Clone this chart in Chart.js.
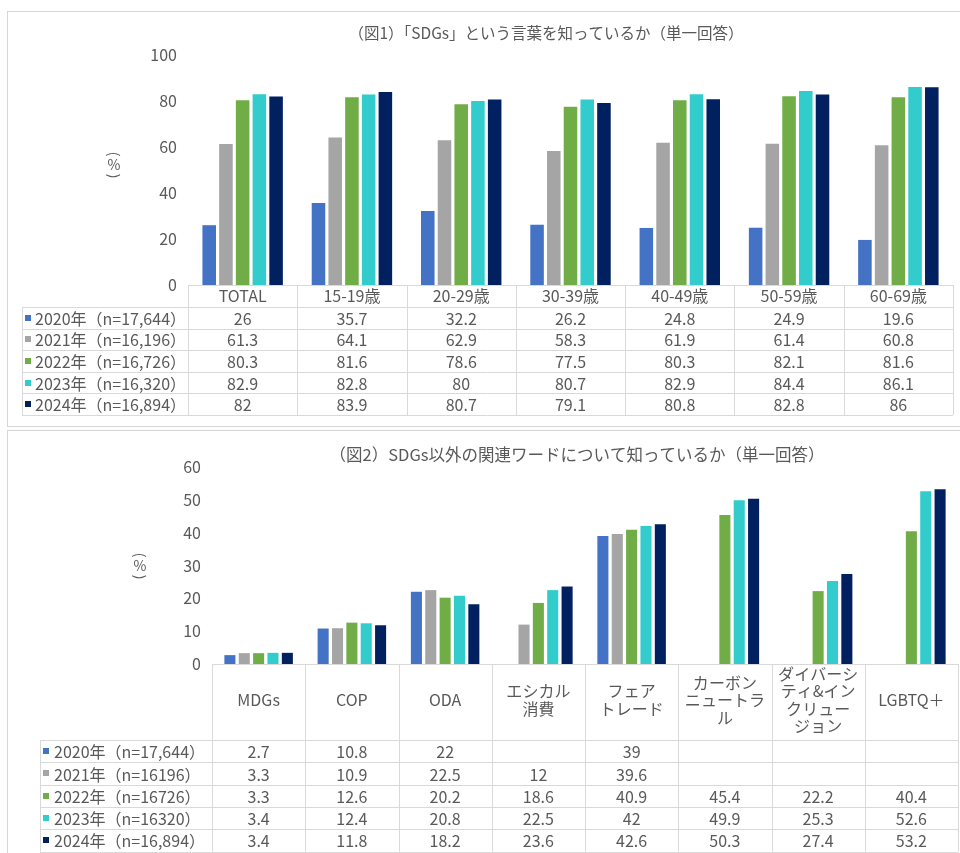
<!DOCTYPE html>
<html lang="ja">
<head>
<meta charset="utf-8">
<title>SDGs認知度</title>
<script src="https://cdn.jsdelivr.net/npm/chart.js@4/dist/chart.umd.min.js"></script>
<style>
  html, body { margin: 0; padding: 0; background: #fff; width: 960px; height: 853px; overflow: hidden; }
  .panel { position: absolute; border: 1px solid #d6d6d6; box-sizing: border-box; background: #fff; }
  #p1 { left: 7px; top: 11px; width: 1000px; height: 416px; }
  #p2 { left: 7px; top: 430px; width: 1000px; height: 500px; }
  canvas { position: absolute; left: 0; }
  #c1 { top: 0; }
  #c2 { top: 428px; }
</style>
</head>
<body>
<div class="panel" id="p1"></div>
<div class="panel" id="p2"></div>
<canvas id="c1" width="960" height="428"></canvas>
<canvas id="c2" width="960" height="425"></canvas>
<script>
// ---- data ----
const FONT = '"Noto Sans CJK JP", "Noto Sans", sans-serif';
const TEXT_COLOR = '#595959';

const seriesColors = ['#4472C4', '#A5A5A5', '#70AD47', '#33CCCC', '#002060'];

// 図1: 「SDGs」という言葉の認知
const title1 = '（図1）「SDGs」という言葉を知っているか（単一回答）';
const seriesNames1 = ['2020年（n=17,644）', '2021年（n=16,196）', '2022年（n=16,726）', '2023年（n=16,320）', '2024年（n=16,894）'];
const ageGroups = ['TOTAL', '15-19歳', '20-29歳', '30-39歳', '40-49歳', '50-59歳', '60-69歳'];
const sdgs2020 = [26, 35.7, 32.2, 26.2, 24.8, 24.9, 19.6];
const sdgs2021 = [61.3, 64.1, 62.9, 58.3, 61.9, 61.4, 60.8];
const sdgs2022 = [80.3, 81.6, 78.6, 77.5, 80.3, 82.1, 81.6];
const sdgs2023 = [82.9, 82.8, 80, 80.7, 82.9, 84.4, 86.1];
const sdgs2024 = [82, 83.9, 80.7, 79.1, 80.8, 82.8, 86];
const yTicks1 = [0, 20, 40, 60, 80, 100];

// 図2: SDGs以外の関連ワードの認知
const title2 = '（図2）SDGs以外の関連ワードについて知っているか（単一回答）';
const seriesNames2 = ['2020年（n=17,644）', '2021年（n=16196）', '2022年（n=16726）', '2023年（n=16320）', '2024年（n=16,894）'];
const relatedWords = ['MDGs', 'COP', 'ODA', ['エシカル', '消費'], ['フェア', 'トレード'], ['カーボン', 'ニュートラ', 'ル'], ['ダイバーシ', 'ティ&イン', 'クリュー', 'ジョン'], 'LGBTQ＋'];
const words2020 = [2.7, 10.8, 22, null, 39, null, null, null];
const words2021 = [3.3, 10.9, 22.5, 12, 39.6, null, null, null];
const words2022 = [3.3, 12.6, 20.2, 18.6, 40.9, 45.4, 22.2, 40.4];
const words2023 = [3.4, 12.4, 20.8, 22.5, 42, 49.9, 25.3, 52.6];
const words2024 = [3.4, 11.8, 18.2, 23.6, 42.6, 50.3, 27.4, 53.2];
const yTicks2 = [0, 10, 20, 30, 40, 50, 60];

// ---- plugins ----
// Data table under the plot, columns aligned to the category scale
const dataTablePlugin = {
  id: 'dataTable',
  afterDraw(chart, args, opts) {
    const { ctx, chartArea, scales: { x } } = chart;
    const labels = chart.data.labels;
    const n = labels.length;
    const top = chartArea.bottom;
    const hh = opts.headerHeight, rh = opts.rowHeight;
    const sets = chart.data.datasets;
    const bodyTop = top + hh;
    const bottom = bodyTop + rh * sets.length;
    const half = (x.getPixelForValue(1) - x.getPixelForValue(0)) / 2;
    const edges = [];
    for (let i = 0; i < n; i++) edges.push(x.getPixelForValue(i) - half);
    edges.push(x.getPixelForValue(n - 1) + half);
    const right = edges[n];
    const L = opts.labelLeft;
    const px = v => Math.round(v) + 0.5;

    ctx.save();
    ctx.strokeStyle = '#d9d9d9';
    ctx.lineWidth = 1;
    ctx.beginPath();
    ctx.moveTo(edges[0], px(top)); ctx.lineTo(right, px(top));
    for (let r = 0; r <= sets.length; r++) {
      const y = px(bodyTop + r * rh);
      ctx.moveTo(L, y); ctx.lineTo(right, y);
    }
    edges.forEach(e => { ctx.moveTo(px(e), top); ctx.lineTo(px(e), bottom); });
    ctx.moveTo(px(L), bodyTop); ctx.lineTo(px(L), bottom);
    ctx.stroke();

    ctx.fillStyle = TEXT_COLOR;
    ctx.font = opts.fontSize + 'px ' + FONT;
    ctx.textAlign = 'center';
    ctx.textBaseline = 'middle';
    // header labels
    labels.forEach((lab, i) => {
      const lines = Array.isArray(lab) ? lab : [lab];
      const cx = x.getPixelForValue(i);
      const lh = opts.headerLineHeight;
      const y0 = top + hh / 2 - (lines.length - 1) * lh / 2 + (opts.headerShift || 0);
      lines.forEach((t, k) => ctx.fillText(t, cx, y0 + k * lh));
    });
    // values
    sets.forEach((ds, r) => {
      const cy = bodyTop + r * rh + rh / 2 + 1;
      ds.data.forEach((v, i) => {
        if (v === null || v === undefined) return;
        ctx.fillText(String(v), x.getPixelForValue(i), cy);
      });
      // row label with colour key
      ctx.fillStyle = ds.backgroundColor;
      ctx.fillRect(L + opts.keyOffset, Math.round(cy - 4), 6, 6);
      ctx.fillStyle = TEXT_COLOR;
      ctx.textAlign = 'left';
      ctx.fillText(ds.label, L + opts.textOffset, cy);
      ctx.textAlign = 'center';
    });
    ctx.restore();
  }
};

// Title and the vertically set unit label
const frameTextPlugin = {
  id: 'frameText',
  afterDraw(chart, args, opts) {
    const { ctx } = chart;
    ctx.save();
    ctx.fillStyle = TEXT_COLOR;
    ctx.textAlign = 'center';
    ctx.textBaseline = 'middle';
    ctx.font = opts.titleSize + 'px ' + FONT;
    ctx.fillText(opts.title, opts.titleX, opts.titleY);
    ctx.font = opts.unitSize + 'px ' + FONT;
    ctx.fillText('%', opts.unitX, opts.unitY);
    // brackets turned a quarter turn, as in vertical writing
    [['(', -1], [')', 1]].forEach(([c, d]) => {
      ctx.save();
      ctx.translate(opts.unitX, opts.unitY + d * opts.unitGap);
      ctx.rotate(Math.PI / 2);
      ctx.fillText(c, 0, 0);
      ctx.restore();
    });
    ctx.restore();
  }
};

function makeDatasets(names, series, pct) {
  return series.map((data, i) => ({
    label: names[i],
    data,
    backgroundColor: seriesColors[i],
    borderWidth: 0,
    categoryPercentage: pct.cat,
    barPercentage: pct.bar
  }));
}

function makeOptions(cfg) {
  return {
    responsive: false,
    animation: false,
    events: [],
    layout: { padding: cfg.padding },
    plugins: {
      legend: { display: false },
      tooltip: { enabled: false },
      title: { display: false },
      dataTable: cfg.table,
      frameText: cfg.text
    },
    scales: {
      x: {
        type: 'category',
        offset: true,
        grid: { display: false },
        border: { display: false },
        ticks: { display: false },
        afterFit: s => { s.height = cfg.xHeight; }
      },
      y: {
        min: cfg.yTicks[0],
        max: cfg.yTicks[cfg.yTicks.length - 1],
        grid: { display: false },
        border: { display: false },
        ticks: { color: TEXT_COLOR, font: { family: FONT, size: 16 }, padding: 3 },
        afterBuildTicks: s => { s.ticks = cfg.yTicks.map(v => ({ value: v })); },
        afterFit: s => { s.width = 60; }
      }
    }
  };
}

new Chart(document.getElementById('c1'), {
  type: 'bar',
  data: {
    labels: ageGroups,
    datasets: makeDatasets(seriesNames1, [sdgs2020, sdgs2021, sdgs2022, sdgs2023, sdgs2024], { cat: 0.765, bar: 0.81 })
  },
  options: makeOptions({
    padding: { left: 128, right: 7, top: 55, bottom: 0 },
    xHeight: 143,
    yTicks: yTicks1,
    table: { headerHeight: 22, rowHeight: 21.6, labelLeft: 22, keyOffset: 3, textOffset: 13, fontSize: 16, headerLineHeight: 18 },
    text: { title: title1, titleX: 546, titleY: 33, titleSize: 15.5, unitX: 114, unitY: 165, unitSize: 14, unitGap: 11 }
  }),
  plugins: [dataTablePlugin, frameTextPlugin]
});

new Chart(document.getElementById('c2'), {
  type: 'bar',
  data: {
    labels: relatedWords,
    datasets: makeDatasets(seriesNames2, [words2020, words2021, words2022, words2023, words2024], { cat: 0.77, bar: 0.77 })
  },
  options: makeOptions({
    padding: { left: 152, right: 2, top: 39, bottom: 0 },
    xHeight: 189,
    yTicks: yTicks2,
    table: { headerHeight: 76, rowHeight: 22.3, labelLeft: 40, keyOffset: 3, textOffset: 14, fontSize: 16, headerLineHeight: 17.5, headerShift: -2 },
    text: { title: title2, titleX: 577, titleY: 27, titleSize: 16.5, unitX: 140, unitY: 138, unitSize: 14, unitGap: 11 }
  }),
  plugins: [dataTablePlugin, frameTextPlugin]
});
</script>
</body>
</html>
